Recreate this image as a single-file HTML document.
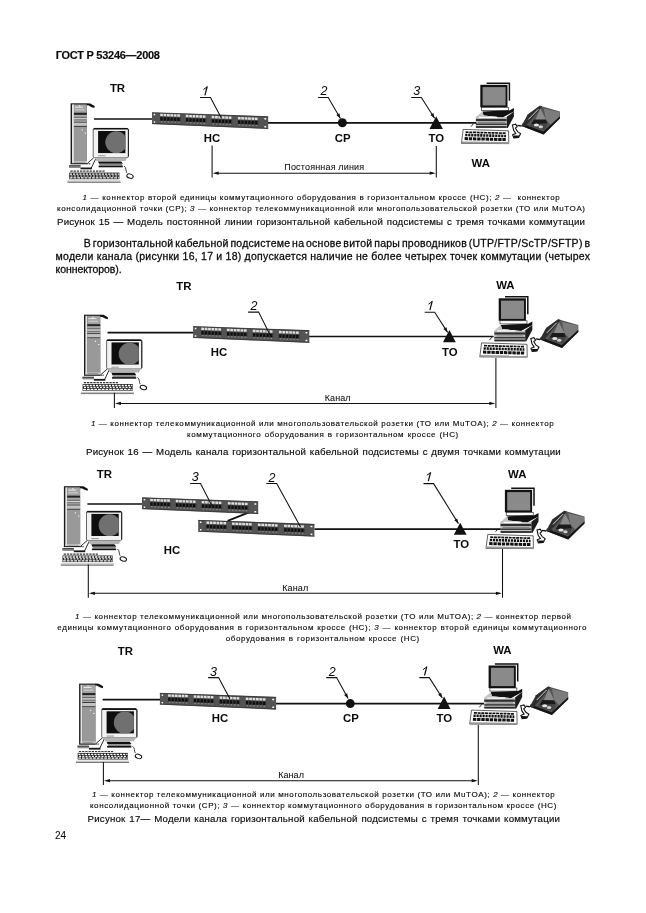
<!DOCTYPE html>
<html lang="ru"><head><meta charset="utf-8"><title>ГОСТ Р 53246—2008</title>
<style>
html,body{margin:0;padding:0;background:#fff;}
body{width:646px;height:913px;position:relative;overflow:hidden;}
svg{position:absolute;left:0;top:0;display:block;transform:translateZ(0);}
text{font-family:"Liberation Sans", sans-serif;fill:#0a0a0a;white-space:pre;stroke:#0a0a0a;stroke-width:0.28px;stroke-linejoin:round;}
text.n{font-size:12.5px;font-style:italic;stroke:none;}
.ln{stroke:#111;fill:none;}
</style></head><body>
<svg width="646" height="913" viewBox="0 0 646 913">
<defs>
 <clipPath id="scr"><rect x="34.1" y="33" width="27.3" height="22.1"/></clipPath>
 <!-- TR tower computer, local origin = (64,98) of figure 15 -->
 <g id="pc">
  <rect x="6.6" y="5.3" width="16.2" height="60.8" fill="#1a1a1a"/>
  <rect x="8" y="6.4" width="2" height="59" fill="#e4e4e4"/>
  <rect x="9.9" y="6.4" width="12.9" height="58.8" fill="#999"/>
  <rect x="10.4" y="7" width="12" height="7.4" fill="#a4a4a4"/>
  <rect x="11" y="8.6" width="8" height="1.1" fill="#e6e6e6"/>
  <rect x="11" y="11.4" width="9.5" height="1" fill="#d0d0d0"/>
  <rect x="15" y="7.3" width="1.2" height="1.1" fill="#fff"/>
  <rect x="9.9" y="14.8" width="12.9" height="2.1" fill="#222"/>
  <rect x="9.9" y="16.9" width="12.9" height="6.9" fill="#a8a8a8"/>
  <rect x="9.9" y="18.9" width="12.9" height="0.8" fill="#5a5a5a"/>
  <rect x="9.9" y="20.2" width="12.9" height="1" fill="#d4d4d4"/>
  <rect x="9.9" y="21.5" width="12.9" height="0.8" fill="#666"/>
  <rect x="9.9" y="23.8" width="12.9" height="0.9" fill="#333"/>
  <rect x="9.9" y="24.7" width="12.9" height="3.2" fill="#c2c2c2"/>
  <rect x="9.9" y="27.9" width="12.9" height="1.1" fill="#444"/>
  <rect x="9.9" y="29" width="12.9" height="34.2" fill="#999"/>
  <rect x="8" y="63.2" width="14.8" height="2.2" fill="#d8d8d8"/>
  <rect x="10" y="63.8" width="11" height="0.8" fill="#888"/>
  <rect x="6.6" y="65.3" width="18" height="0.9" fill="#1a1a1a"/>
  <rect x="17.6" y="31.4" width="1.1" height="1.1" fill="#fff"/>
  <rect x="20.8" y="34.6" width="1.1" height="1.1" fill="#fff"/>
  <path d="M22.6 5.3 L26.2 5.4 L30.7 8 L30.3 9.9 L27.2 8.9 L24.8 7.5 L22.6 7.3 Z" fill="#111"/>
  <path d="M23.5 65.2 L29.7 59.8 M25 65.8 H26.4 M27.1 70.4 L31.8 60.6" fill="none" stroke="#111" stroke-width="0.9"/>
  <rect x="5" y="67.4" width="11.6" height="2.6" fill="#8a8a8a"/>
  <rect x="5" y="67.4" width="11.6" height="0.8" fill="#222"/>
  <rect x="16.5" y="69.5" width="11.4" height="1.8" fill="#161616"/>
  <!-- monitor -->
  <rect x="29.2" y="30.4" width="35.2" height="29.2" rx="1.4" fill="#f2f2f2" stroke="#444" stroke-width="0.8"/>
  <path d="M28.9 31.6 L30.2 30 H63.4 L64.7 31.6 Z" fill="#111"/>
  <path d="M64.4 31.4 V58.6" stroke="#111" stroke-width="0.9" fill="none"/>
  <rect x="34.1" y="33" width="27.3" height="22.1" fill="#0e0e0e"/>
  <circle cx="52.3" cy="44.3" r="11" fill="#707070" clip-path="url(#scr)"/>
  <rect x="34.1" y="57.3" width="7.4" height="0.9" fill="#8a8a8a"/>
  <path d="M30.4 59.6 H63.2 L61.6 63 H32.6 Z" fill="#b4b4b4"/>
  <path d="M34 63.4 H57.2 L59 65.8 H35 Z" fill="#111"/>
  <rect x="35.3" y="65.8" width="23" height="1.9" fill="#8a8a8a"/>
  <rect x="34.6" y="67.7" width="24.2" height="1.6" fill="#111"/>
  <!-- keyboard -->
  <line x1="6.4" y1="73.2" x2="40.6" y2="73.2" stroke="#333" stroke-width="1.2" stroke-dasharray="2.3 0.9"/>
  <rect x="5.2" y="74.6" width="50.2" height="6.6" fill="#222"/>
  <line x1="5.8" y1="76.1" x2="55" y2="76.1" stroke="#fff" stroke-width="1.3" stroke-dasharray="2.2 1"/>
  <line x1="6.6" y1="78" x2="55" y2="78" stroke="#f4f4f4" stroke-width="1.2" stroke-dasharray="2 1.2"/>
  <line x1="5.8" y1="79.9" x2="55" y2="79.9" stroke="#fff" stroke-width="1.2" stroke-dasharray="2.8 0.9"/>
  <rect x="3.5" y="82.4" width="53" height="2.2" fill="#c4c4c4"/><rect x="3.5" y="83.9" width="53" height="0.8" fill="#666"/>
  <!-- mouse -->
  <path d="M60 68 C62.6 69.4 61.4 72.6 62.8 74.8" fill="none" stroke="#111" stroke-width="0.8"/>
  <ellipse cx="66" cy="78.1" rx="3.3" ry="2.1" transform="rotate(18 66 78.1)" fill="#fff" stroke="#111" stroke-width="1"/>
 </g>

 <!-- WA desktop + phone, local origin = (455,76) of figure 15 -->
 <g id="wa">
  <path d="M31.6 7.2 H54.4 V24.8" fill="none" stroke="#111" stroke-width="1.5"/>
  <rect x="25.3" y="8.8" width="27.2" height="22.5" fill="#111"/>
  <rect x="27.6" y="11.1" width="23" height="18.3" fill="#8a8a8a"/>
  <rect x="26.6" y="31.3" width="27" height="3.1" fill="#fff" stroke="#111" stroke-width="0.6"/>
  <path d="M27.4 35.4 L54.8 34.2 L58.9 32 L58.9 35.4 L47.6 41.5 L28.6 39.5 Z" fill="#111"/>
  <path d="M20.6 41.2 L27.4 35.6 L28.6 39.5 L47.6 41.5 L51.8 40.8 L51.8 52 L20.6 51.6 Z" fill="#c4c4c4"/>
  <path d="M24 41.4 H42" stroke="#fff" stroke-width="1.2" fill="none"/>
  <path d="M21 44 H51.6" stroke="#2e2e2e" stroke-width="2.2" fill="none"/>
  <path d="M23 46.4 H50" stroke="#777" stroke-width="0.9" fill="none"/>
  <path d="M21 48.2 H51.6" stroke="#333" stroke-width="1.5" fill="none"/>
  <path d="M21 51 H51.6" stroke="#2a2a2a" stroke-width="1.8" fill="none"/>
  <path d="M51.8 40.8 L58.9 35.4 L58.9 40.4 L52.8 52 L51.8 52 Z" fill="#1c1c1c"/>
  <path d="M16 50.6 L18.6 47.6" stroke="#111" stroke-width="0.9"/>
  <!-- keyboard -->
  <path d="M8.2 53.4 L53.6 54.8 L53.8 67.6 L6.4 67.4 Z" fill="#fff" stroke="#222" stroke-width="0.7"/>
  <path d="M10.6 56.2 L51 57.2" stroke="#111" stroke-width="1.7" stroke-dasharray="3 0.7"/>
  <path d="M10.2 59 L51 60" stroke="#111" stroke-width="2.6" stroke-dasharray="2.2 0.8"/>
  <path d="M9.6 62.6 L51.2 63.6" stroke="#111" stroke-width="3" stroke-dasharray="3.4 0.8"/>
  <path d="M6.6 66.4 L53.8 66.9" stroke="#999" stroke-width="1.6"/>
  <!-- mouse -->
  <path d="M57.4 49 L60.6 48.2 L62.2 50.6 L60.4 52.2 L62.6 55.6 L65.6 57.6 L63.6 61.4 L58.8 62 L57.6 58.8 L60.8 57.4 L58.6 54.2 Z" fill="#fff" stroke="#111" stroke-width="1.1"/>
  <path d="M58.6 59.4 L64.2 59.6 L63.4 61.6 L58.8 62 Z" fill="#111"/>
  <!-- phone -->
  <path d="M84.8 29.8 L104.9 35.6 L104.9 42.6 L88.6 58.4 L66.6 50 L72.8 38.6 Z" fill="#555"/>
  <path d="M88.6 32.4 L104.5 36 L104.5 41.6 L96.4 49.4 L91 43.4 Z" fill="#7c7c7c"/>
  <path d="M66.6 50 L88.6 58.4 L104.9 42.6 L104.9 40.2 L88.4 55.6 L67.2 47.6 Z" fill="#151515"/>
  <path d="M84.8 29.8 L87.2 30.6 L70.4 50.6 L66.6 50 L72.8 38.6 Z" fill="#2e2e2e"/>
  <path d="M83.4 33.2 L73.4 43.4" stroke="#e6e6e6" stroke-width="0.9"/>
  <path d="M85.4 32.4 L92 45.6 L79.4 46 Z" fill="#8a8a8a"/>
  <path d="M79 43.4 L91 43.6 L92.4 47.6 L76 48.2 Z" fill="#1a1a1a"/>
  <path d="M76 48.2 L92.4 47.6 L90 54 L73.4 50.4 Z" fill="#444"/>
  <ellipse cx="81.4" cy="49" rx="2.6" ry="1.5" fill="#e4e4e4"/>
  <ellipse cx="85.8" cy="50.8" rx="2.2" ry="1.5" fill="#cfcfcf"/>
  <path d="M66.6 50 L62.4 49.4" stroke="#111" stroke-width="1.4"/>
 </g>

 <!-- patch panel, local origin = top-left corner, unskewed 116.6 x 12 -->
 <g id="pgrp">
  <line x1="0.4" y1="1.75" x2="20.8" y2="1.75" stroke="#dedede" stroke-width="2.4" stroke-dasharray="2.7 0.7"/>
  <rect x="0.2" y="3.6" width="20.8" height="4" fill="#3a3a3a"/>
  <line x1="0.6" y1="5.7" x2="21" y2="5.7" stroke="#0e0e0e" stroke-width="3.2" stroke-dasharray="2.1 1.3"/>
  <line x1="1.2" y1="8.5" x2="21" y2="8.5" stroke="#8e8e8e" stroke-width="1.1" stroke-dasharray="1.5 1.9"/>
 </g>
 <g id="panel">
  <g transform="matrix(1 0.0345 0 1 0 0)">
   <path d="M0 0 H116.2 V12.4 L0 11.5 Z" fill="#545454"/>
   <path d="M0 0.3 H116.2" stroke="#2a2a2a" stroke-width="0.7"/>
   <path d="M0 11.2 L116.2 12.1" stroke="#2a2a2a" stroke-width="0.7"/>
   <rect x="1.7" y="1.4" width="1.5" height="1.4" fill="#fff"/>
   <rect x="1.7" y="8.9" width="1.5" height="1.4" fill="#fff"/>
   <rect x="112.4" y="1.8" width="1.8" height="1.5" fill="#fff"/>
   <rect x="112.4" y="9.6" width="1.8" height="1.5" fill="#fff"/>
   <use href="#pgrp" x="7.8" y="0.45"/>
   <use href="#pgrp" x="33.4" y="0.65"/>
   <use href="#pgrp" x="59.3" y="0.85"/>
   <use href="#pgrp" x="85.5" y="1.05"/>
  </g>
 </g>
 <marker id="ah" markerWidth="8" markerHeight="4" refX="8" refY="2" orient="auto-start-reverse" markerUnits="userSpaceOnUse">
  <path d="M0 0.6 L8 2 L0 3.4 Z" fill="#111"/>
 </marker>
</defs>
<g id="fig15">
<use href="#pc" x="64" y="98"/>
<use href="#wa" x="455" y="76"/>
<path class="ln" d="M94 119 H152.6 M268 122.8 H476.4" stroke-width="1.7"/>
<use href="#panel" x="152" y="112.4"/>
<circle cx="342.4" cy="122.8" r="4.5" fill="#111"/>
<path d="M436.2 116.2 L442.9 128.9 L429.5 128.9 Z" fill="#111"/>
<path class="ln" d="M200.0 97.4 H210.5 L221.3 117.9" stroke-width="1.05"/>
<path class="ln" d="M318.1 97.4 H328.2 L340.4 118.4" stroke-width="1.05"/><path d="M340.4 118.4 L336.4 115.0 L339.4 113.2 Z" fill="#111"/>
<path class="ln" d="M411.2 97.4 H421.3 L434.6 118.2" stroke-width="1.05"/><path d="M434.6 118.2 L430.4 114.9 L433.4 113.0 Z" fill="#111"/>
<path d="M204.9 95.4 L207.2 86.5" stroke="#111" stroke-width="1.25" fill="none"/><path d="M207.3 86.8 L203.4 89.5" stroke="#111" stroke-width="1.0" fill="none"/>
<path class="ln" d="M212.1 145.4 V177.5 M436.3 146.0 V177.5 M215.1 173.2 H433.3" stroke-width="1.05"/><path d="M212.7 173.2 l6 -1.6 v3.2 z M435.7 173.2 l-6 -1.6 v3.2 z" fill="#111"/>
</g>
<g id="fig16">
<use href="#pc" x="77.4" y="309.4"/>
<use href="#wa" x="473.4" y="289.5"/>
<path class="ln" d="M107.5 332.7 H194 M309 336.5 H493.6" stroke-width="1.7"/>
<use href="#panel" x="193.1" y="326.3"/>
<path d="M449.4 330.0 L455.8 342.3 L443.0 342.3 Z" fill="#111"/>
<path class="ln" d="M248.1 312.1 H258.6 L270.6 336.0" stroke-width="1.05"/>
<path class="ln" d="M424.7 312.2 H434.7 L447.6 332.4" stroke-width="1.05"/><path d="M447.6 332.4 L443.4 329.1 L446.4 327.2 Z" fill="#111"/>
<path d="M429.9 310.1 L432.2 301.2" stroke="#111" stroke-width="1.25" fill="none"/><path d="M432.3 301.5 L428.4 304.2" stroke="#111" stroke-width="1.0" fill="none"/>
<path class="ln" d="M114.4 392.8 V408.0 M495.9 357.9 V408.0 M117.4 403.4 H492.9" stroke-width="1.05"/><path d="M115.0 403.4 l6 -1.6 v3.2 z M495.3 403.4 l-6 -1.6 v3.2 z" fill="#111"/>
</g>
<g id="fig16b">
<use href="#pc" x="57.3" y="480.9"/>
<use href="#wa" x="479.6" y="481"/>
<path class="ln" d="M87.4 504 H142.6 M314.4 529.1 H500.6" stroke-width="1.7"/>
<path class="ln" d="M227.6 520.9 L249.6 512.1" stroke-width="1.7"/>
<use href="#panel" x="142" y="497.5"/>
<use href="#panel" x="198.2" y="520.1"/>
<path d="M460.2 522.8 L466.6 534.7 L453.8 534.7 Z" fill="#111"/>
<path class="ln" d="M190.1 483.4 H200.5 L211.7 505.2" stroke-width="1.05"/>
<path class="ln" d="M266.3 483.4 H276.7 L300.4 526.7" stroke-width="1.05"/>
<path class="ln" d="M423.5 483.6 H433.6 L458.4 523.6" stroke-width="1.05"/><path d="M458.4 523.6 L454.3 520.3 L457.3 518.4 Z" fill="#111"/>
<path d="M428.3 481.2 L430.6 472.3" stroke="#111" stroke-width="1.25" fill="none"/><path d="M430.7 472.6 L426.8 475.3" stroke="#111" stroke-width="1.0" fill="none"/>
<path class="ln" d="M88.3 564.5 V597.8 M502.5 549.0 V597.8 M91.3 593.3 H499.5" stroke-width="1.05"/><path d="M88.9 593.3 l6 -1.6 v3.2 z M501.9 593.3 l-6 -1.6 v3.2 z" fill="#111"/>
</g>
<g id="fig17">
<use href="#pc" x="72.5" y="678.3"/>
<use href="#wa" x="463.3" y="656.7"/>
<path class="ln" d="M102.6 699.6 H160.6 M275.4 703.7 H484" stroke-width="1.7"/>
<use href="#panel" x="159.9" y="693"/>
<circle cx="350.3" cy="703.6" r="4.5" fill="#111"/>
<path d="M444.1 696.6 L450.5 709.0 L437.7 709.0 Z" fill="#111"/>
<path class="ln" d="M208.1 677.6 H218.6 L229.8 698.7" stroke-width="1.05"/>
<path class="ln" d="M326.2 677.6 H336.6 L348.1 698.4" stroke-width="1.05"/><path d="M348.1 698.4 L344.1 694.9 L347.2 693.2 Z" fill="#111"/>
<path class="ln" d="M419.3 677.6 H429.3 L442.3 698.0" stroke-width="1.05"/><path d="M442.3 698.0 L438.1 694.7 L441.1 692.8 Z" fill="#111"/>
<path d="M424.5 675.5 L426.8 666.6" stroke="#111" stroke-width="1.25" fill="none"/><path d="M426.9 666.9 L423.0 669.6" stroke="#111" stroke-width="1.0" fill="none"/>
<path class="ln" d="M103.4 762.0 V785.0 M478.3 725.0 V785.0 M106.4 780.7 H475.3" stroke-width="1.05"/><path d="M104.0 780.7 l6 -1.6 v3.2 z M477.7 780.7 l-6 -1.6 v3.2 z" fill="#111"/>
</g>
<g id="txt">
<text x="55.7" y="59.1" style="font-size:11px;font-weight:bold;stroke-width:0.15px;letter-spacing:-0.265px;">ГОСТ Р 53246—2008</text>
<text x="82.6" y="200.0" style="font-size:8.0px;stroke-width:0.14px;letter-spacing:0.600px;word-spacing:0.139px;"><tspan font-style="italic">1</tspan> — коннектор второй единицы коммутационного оборудования в горизонтальном кроссе (НС); <tspan font-style="italic">2</tspan> —  коннектор</text>
<text x="57.0" y="210.9" style="font-size:8.0px;stroke-width:0.14px;letter-spacing:0.600px;word-spacing:0.014px;">консолидационной точки (СР); <tspan font-style="italic">3</tspan> — коннектор телекоммуникационной или многопользовательской розетки (ТО или MuTOA)</text>
<text x="57.0" y="224.9" style="font-size:9.7px;stroke-width:0.16px;letter-spacing:0.200px;word-spacing:0.816px;">Рисунок 15 — Модель постоянной линии горизонтальной кабельной подсистемы с тремя точками коммутации</text>
<text x="83.8" y="246.5" style="font-size:10.5px;letter-spacing:0.250px;word-spacing:-1.380px;">В горизонтальной кабельной подсистеме на основе витой пары проводников (UTP/FTP/ScTP/SFTP) в</text>
<text x="55.6" y="260.1" style="font-size:10.5px;letter-spacing:0.250px;word-spacing:-0.053px;">модели канала (рисунки 16, 17 и 18) допускается наличие не более четырех точек коммутации (четырех</text>
<text x="55.6" y="273.4" style="font-size:10.5px;letter-spacing:-0.076px;">коннекторов).</text>
<text x="90.9" y="426.3" style="font-size:8.0px;stroke-width:0.14px;letter-spacing:0.600px;word-spacing:0.020px;"><tspan font-style="italic">1</tspan> — коннектор телекоммуникационной или многопользовательской розетки (ТО или MuTOA); <tspan font-style="italic">2</tspan> — коннектор</text>
<text x="187.1" y="437.0" style="font-size:8.0px;stroke-width:0.14px;letter-spacing:0.600px;word-spacing:0.593px;">коммутационного оборудования в горизонтальном кроссе (НС)</text>
<text x="86.0" y="455.0" style="font-size:9.7px;stroke-width:0.16px;letter-spacing:0.200px;word-spacing:0.784px;">Рисунок 16 — Модель канала горизонтальной кабельной подсистемы с двумя точками коммутации</text>
<text x="75.0" y="619.0" style="font-size:8.0px;stroke-width:0.14px;letter-spacing:0.600px;word-spacing:0.056px;"><tspan font-style="italic">1</tspan> — коннектор телекоммуникационной или многопользовательской розетки (ТО или MuTOA); <tspan font-style="italic">2</tspan> — коннектор первой</text>
<text x="57.3" y="629.9" style="font-size:8.0px;stroke-width:0.14px;letter-spacing:0.600px;word-spacing:0.423px;">единицы коммутационного оборудования в горизонтальном кроссе (НС); <tspan font-style="italic">3</tspan> — коннектор второй единицы коммутационного</text>
<text x="225.7" y="640.6" style="font-size:8.0px;stroke-width:0.14px;letter-spacing:0.600px;word-spacing:0.605px;">оборудования в горизонтальном кроссе (НС)</text>
<text x="91.9" y="796.6" style="font-size:8.0px;stroke-width:0.14px;letter-spacing:0.600px;word-spacing:0.020px;"><tspan font-style="italic">1</tspan> — коннектор телекоммуникационной или многопользовательской розетки (ТО или MuTOA); <tspan font-style="italic">2</tspan> — коннектор</text>
<text x="89.9" y="807.6" style="font-size:8.0px;stroke-width:0.14px;letter-spacing:0.600px;word-spacing:0.038px;">консолидационной точки (СР); <tspan font-style="italic">3</tspan> — коннектор коммутационного оборудования в горизонтальном кроссе (НС)</text>
<text x="87.6" y="821.6" style="font-size:9.7px;stroke-width:0.16px;letter-spacing:0.200px;word-spacing:0.896px;">Рисунок 17— Модели канала горизонтальной кабельной подсистемы с тремя точками коммутации</text>
<text x="55.0" y="839.3" style="font-size:10px;stroke-width:0.05px;letter-spacing:-0.125px;">24</text>
<text x="117.5" y="91.7" text-anchor="middle" style="font-size:11.4px;font-weight:bold;stroke:none;">TR</text>
<text x="212.1" y="142.2" text-anchor="middle" style="font-size:11.4px;font-weight:bold;stroke:none;">HC</text>
<text x="342.7" y="141.6" text-anchor="middle" style="font-size:11.4px;font-weight:bold;stroke:none;">CP</text>
<text x="436.4" y="141.5" text-anchor="middle" style="font-size:11.4px;font-weight:bold;stroke:none;">TO</text>
<text x="480.8" y="166.7" text-anchor="middle" style="font-size:11.4px;font-weight:bold;stroke:none;">WA</text>
<text x="284.3" y="170.2" style="font-size:9px;stroke-width:0.05px;letter-spacing:0.170px;">Постоянная линия</text>
<text x="183.8" y="289.6" text-anchor="middle" style="font-size:11.4px;font-weight:bold;stroke:none;">TR</text>
<text x="219.1" y="356.3" text-anchor="middle" style="font-size:11.4px;font-weight:bold;stroke:none;">HC</text>
<text x="449.9" y="356.2" text-anchor="middle" style="font-size:11.4px;font-weight:bold;stroke:none;">TO</text>
<text x="505.4" y="289.2" text-anchor="middle" style="font-size:11.4px;font-weight:bold;stroke:none;">WA</text>
<text x="324.8" y="401.0" style="font-size:9px;stroke-width:0.05px;letter-spacing:0.054px;">Канал</text>
<text x="104.3" y="478.2" text-anchor="middle" style="font-size:11.4px;font-weight:bold;stroke:none;">TR</text>
<text x="171.9" y="554.2" text-anchor="middle" style="font-size:11.4px;font-weight:bold;stroke:none;">HC</text>
<text x="461.2" y="548.0" text-anchor="middle" style="font-size:11.4px;font-weight:bold;stroke:none;">TO</text>
<text x="517.2" y="477.8" text-anchor="middle" style="font-size:11.4px;font-weight:bold;stroke:none;">WA</text>
<text x="282.2" y="591.0" style="font-size:9px;stroke-width:0.05px;letter-spacing:0.129px;">Канал</text>
<text x="125.3" y="654.5" text-anchor="middle" style="font-size:11.4px;font-weight:bold;stroke:none;">TR</text>
<text x="220.0" y="722.3" text-anchor="middle" style="font-size:11.4px;font-weight:bold;stroke:none;">HC</text>
<text x="350.9" y="721.6" text-anchor="middle" style="font-size:11.4px;font-weight:bold;stroke:none;">CP</text>
<text x="444.3" y="721.6" text-anchor="middle" style="font-size:11.4px;font-weight:bold;stroke:none;">TO</text>
<text x="502.4" y="654.3" text-anchor="middle" style="font-size:11.4px;font-weight:bold;stroke:none;">WA</text>
<text x="278.3" y="778.0" style="font-size:9px;stroke-width:0.05px;letter-spacing:0.029px;">Канал</text>
<text class="n" x="320.6" y="95.1">2</text>
<text class="n" x="413.3" y="95.1">3</text>
<text class="n" x="250.6" y="309.8">2</text>
<text class="n" x="191.8" y="481.3">3</text>
<text class="n" x="268.6" y="481.5">2</text>
<text class="n" x="209.9" y="675.5">3</text>
<text class="n" x="328.7" y="675.5">2</text>
</g>
</svg>
</body></html>
